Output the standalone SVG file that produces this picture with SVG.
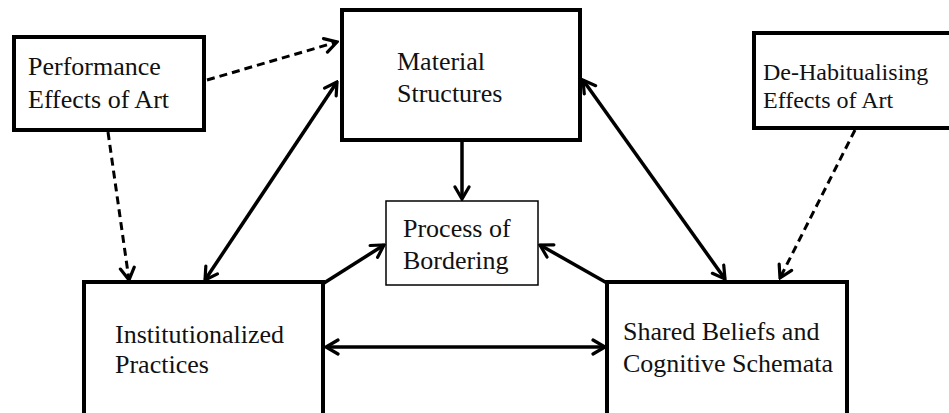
<svg xmlns="http://www.w3.org/2000/svg" width="949" height="413" viewBox="0 0 949 413">
<style>
.box{fill:#fff;stroke:#000;stroke-width:4}
.thin{fill:#fff;stroke:#000;stroke-width:1.5}
.t{font-family:"Liberation Serif","Times New Roman",serif;font-size:26px;fill:#111}
.t2{font-family:"Liberation Serif","Times New Roman",serif;font-size:24px;fill:#111}
.s{fill:none;stroke:#000;stroke-width:3.5}
.d{fill:none;stroke:#000;stroke-width:3;stroke-dasharray:8 5}
</style>
<defs>
<marker id="ah" viewBox="0 0 16 18" refX="14" refY="9" markerWidth="16" markerHeight="18" markerUnits="userSpaceOnUse" orient="auto-start-reverse">
<path d="M2,2 L14,9 L2,16" fill="none" stroke="#000" stroke-width="3.2" stroke-dasharray="none" stroke-linecap="round"/>
</marker>
</defs>
<g id="connectors">
<line class="d" x1="207" y1="80" x2="337" y2="42" marker-end="url(#ah)"/>
<line class="d" x1="108" y1="132" x2="129" y2="280" marker-end="url(#ah)"/>
<line class="s" x1="205" y1="280" x2="337" y2="82" marker-start="url(#ah)" marker-end="url(#ah)"/>
<line class="s" x1="462" y1="142" x2="462" y2="199" marker-end="url(#ah)"/>
<line class="s" x1="324" y1="283" x2="384" y2="245" marker-end="url(#ah)"/>
<line class="s" x1="607" y1="283" x2="540" y2="245" marker-end="url(#ah)"/>
<line class="s" x1="583" y1="80" x2="725" y2="279" marker-start="url(#ah)" marker-end="url(#ah)"/>
<line class="d" x1="855" y1="130" x2="780" y2="278" marker-end="url(#ah)"/>
<line class="s" x1="326" y1="347" x2="605" y2="347" marker-start="url(#ah)" marker-end="url(#ah)"/>
</g>
<g id="performance">
<rect class="box" x="14" y="37" width="190" height="93"/>
<text class="t" x="28" y="75">Performance</text>
<text class="t" x="28" y="108">Effects of Art</text>
</g>
<g id="material">
<rect class="box" x="342" y="10" width="238" height="130"/>
<text class="t" x="397" y="70">Material</text>
<text class="t" x="397" y="102">Structures</text>
</g>
<g id="dehabitualising">
<rect class="box" x="754" y="33" width="200" height="95"/>
<text class="t2" x="763" y="80">De-Habitualising</text>
<text class="t2" x="763" y="108">Effects of Art</text>
</g>
<g id="process">
<rect class="thin" x="386" y="201" width="152" height="84"/>
<text class="t" x="403" y="237">Process of</text>
<text class="t" x="403" y="269">Bordering</text>
</g>
<g id="institutionalized">
<rect class="box" x="84" y="282" width="239" height="135"/>
<text class="t" x="115" y="343">Institutionalized</text>
<text class="t" x="115" y="373">Practices</text>
</g>
<g id="shared">
<rect class="box" x="607" y="282" width="240" height="135"/>
<text class="t" x="623" y="340">Shared Beliefs and</text>
<text class="t" x="623" y="372">Cognitive Schemata</text>
</g>
</svg>
